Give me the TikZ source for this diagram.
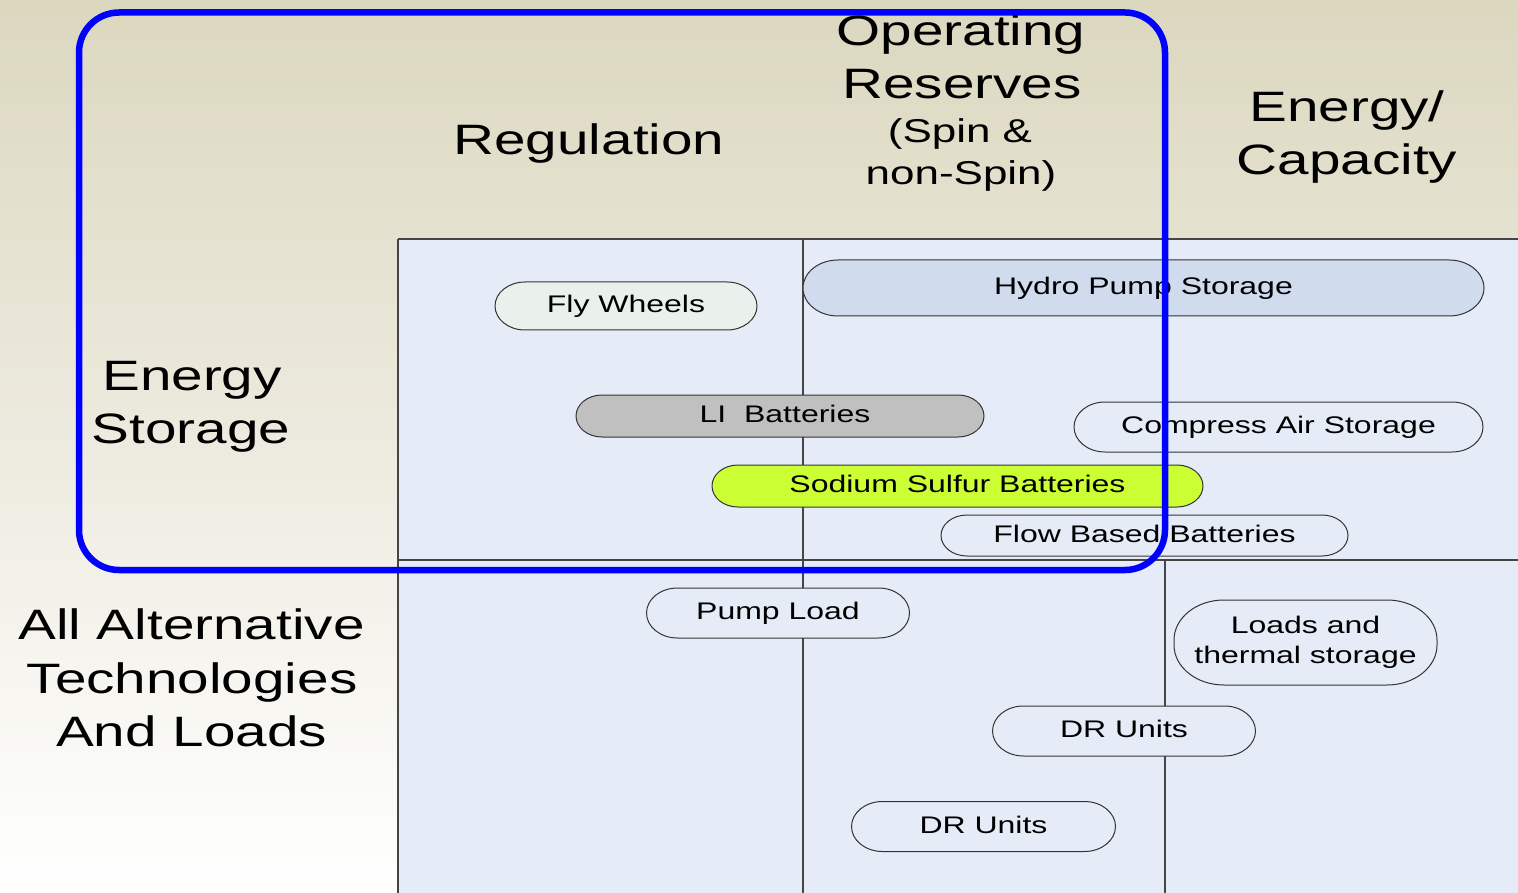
\documentclass[tikz,border=0pt]{standalone}
\usepackage{fontspec}
\setmainfont{Liberation Sans}
\usepackage{graphicx}

\definecolor{bgtop}{HTML}{DBD7BF}
\definecolor{bgbottom}{HTML}{FFFFFF}
\definecolor{cellfill}{HTML}{E6ECF7}
\definecolor{gridline}{HTML}{454545}
\definecolor{pillborder}{HTML}{333333}
\definecolor{flyfill}{HTML}{EAF1EC}
\definecolor{hydrofill}{HTML}{D0DCEE}
\definecolor{lifill}{HTML}{C0C0C0}
\definecolor{nasfill}{HTML}{CCFF33}
\definecolor{frameblue}{HTML}{0000FF}

% text is set wide, as on a stretched slide
\newcommand\wide[1]{\scalebox{1.333}[1]{#1}}

% rounded capsule with elliptic ends: cx, cy, w, h, rx, ry, fill
\newcommand\pill[7]{%
  \filldraw[pillline, fill=#7]
    ({#1+#3/2-#5},{#2-#4/2}) arc[start angle=-90,end angle=0,x radius=#5,y radius=#6]
    -- ({#1+#3/2},{#2+#4/2-#6}) arc[start angle=0,end angle=90,x radius=#5,y radius=#6]
    -- ({#1-#3/2+#5},{#2+#4/2}) arc[start angle=90,end angle=180,x radius=#5,y radius=#6]
    -- ({#1-#3/2},{#2-#4/2+#6}) arc[start angle=180,end angle=270,x radius=#5,y radius=#6]
    -- cycle;}

\tikzset{
  title/.style={anchor=base, inner sep=0pt, font=\fontsize{42.5}{53}\selectfont},
  subtitle/.style={anchor=base, inner sep=0pt, font=\fontsize{33}{41}\selectfont},
  pilltext/.style={inner sep=0pt, font=\fontsize{24}{30}\selectfont},
  oneline/.style={pilltext, text height=18pt, text depth=4.8pt},
  pillline/.style={draw=pillborder, line width=1pt},
  gridrule/.style={draw=gridline, line width=1.2pt},
  frame/.style={draw=frameblue, line width=6.5pt, rounded corners=40pt},
}

\begin{document}
\begin{tikzpicture}[x=1pt, y=-1pt]
  \useasboundingbox (0,0) rectangle (1518,893);

  % background and matrix cells
  \shade[top color=bgtop, bottom color=bgbottom] (0,0) rectangle (1518,893);
  \fill[cellfill] (398,239) rectangle (1518,893);

  % matrix rules
  \coordinate (gTL) at (398,239);
  \coordinate (gTR) at (1518,239);
  \coordinate (gML) at (398,560);
  \coordinate (gMR) at (1518,560);
  \coordinate (gBL) at (398,893);
  \coordinate (c1T) at (803,239);
  \coordinate (c1B) at (803,893);
  \coordinate (c2T) at (1165,560);
  \coordinate (c2B) at (1165,893);
  \draw[gridrule] (gTL) -- (gTR);
  \draw[gridrule] (gML) -- (gMR);
  \draw[gridrule] (gTL) -- (gBL);
  \draw[gridrule] (c1T) -- (c1B);
  \draw[gridrule] (c2T) -- (c2B);

  % column headings
  \node[title] (reg) at (589,155) {\wide{Regulation}};
  \node[title] (op1) at (961,46) {\wide{Operating}};
  \node[title] (op2) at (962,99) {\wide{Reserves}};
  \node[subtitle] (op3) at (960,143) {\wide{(Spin \&}};
  \node[subtitle] (op4) at (961,185) {\wide{non-Spin)}};
  \node[title] (en1) at (1347,122) {\wide{Energy/}};
  \node[title] (en2) at (1347,175) {\wide{Capacity}};

  % row headings
  \node[title] (es1) at (192,390) {\wide{Energy}};
  \node[title] (es2) at (191,443) {\wide{Storage}};
  \node[title] (al1) at (191.5,639) {\wide{All Alternative}};
  \node[title] (al2) at (192,693) {\wide{Technologies}};
  \node[title] (al3) at (191.5,746) {\wide{And Loads}};

  % technologies
  \pill{626}{306}{262}{48}{30}{24}{flyfill}
  \node[oneline] (fly) at (626,306) {\wide{Fly Wheels}};

  \pill{1143.5}{288}{681}{56}{35}{28}{hydrofill}
  \node[oneline] (hydro) at (1143.5,288) {\wide{Hydro Pump Storage}};

  \pill{780}{416}{408}{42}{26}{21}{lifill}
  \node[oneline] (li) at (785,416) {\wide{LI\ \ Batteries}};

  \pill{1278.5}{427}{409}{50}{31}{25}{cellfill}
  \node[oneline] (cas) at (1278.5,427) {\wide{Compress Air Storage}};

  \pill{957.5}{486}{491}{42}{26}{21}{nasfill}
  \node[oneline] (nas) at (957.5,486) {\wide{Sodium Sulfur Batteries}};

  \pill{1144.5}{535.5}{407}{41}{26}{20.5}{cellfill}
  \node[oneline] (flow) at (1144.5,535.5) {\wide{Flow Based Batteries}};

  \pill{778}{613}{263}{50}{31}{25}{cellfill}
  \node[oneline] (pump) at (778,613) {\wide{Pump Load}};

  \pill{1305.5}{642.5}{263}{85}{50}{40}{cellfill}
  \node[pilltext] (loads) at (1305.5,642.5)
    {\wide{\begin{tabular}{@{}c@{}}Loads and\\thermal storage\end{tabular}}};

  \pill{1124}{731}{263}{50}{31}{25}{cellfill}
  \node[oneline] (dr1) at (1124,731) {\wide{DR Units}};

  \pill{983.5}{826.5}{264}{50}{31}{25}{cellfill}
  \node[oneline] (dr2) at (983.5,826.5) {\wide{DR Units}};

  % energy storage outline
  \draw[frame] (79,12.5) rectangle (1165,570);
\end{tikzpicture}
\end{document}
